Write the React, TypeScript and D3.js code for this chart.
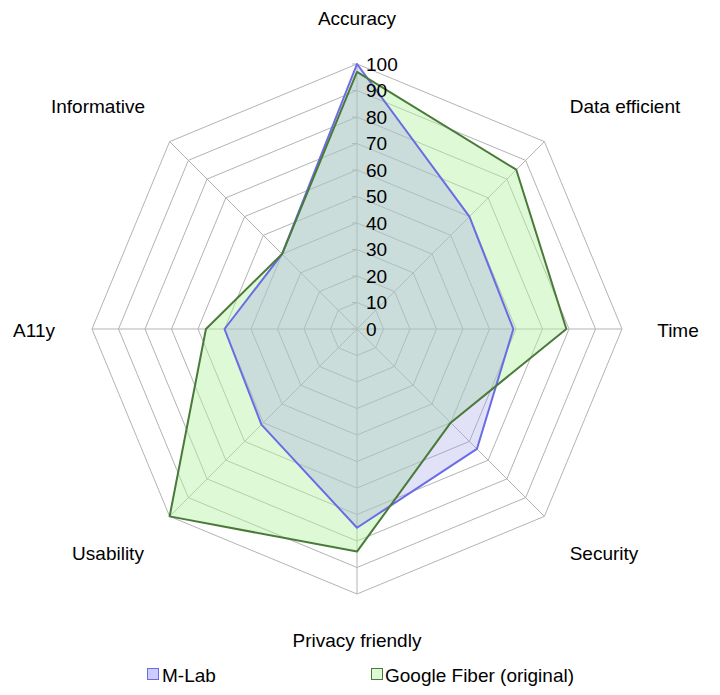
import React from "react";
import * as d3 from "d3";

const axes = ["Accuracy", "Data efficient", "Time", "Security", "Privacy friendly", "Usability", "A11y", "Informative"];
const mlab = [100, 60, 59, 64, 75, 51, 50, 40];
const google = [97, 85, 79, 50, 84, 100, 57, 40];
const ticks = [0, 10, 20, 30, 40, 50, 60, 70, 80, 90, 100];
const seriesNames = ["M-Lab", "Google Fiber (original)"];

export default function App() {
  const W = 720, H = 695;
  const cx = 357, cy = 329, R = 265;
  const r = d3.scaleLinear().domain([0, 100]).range([0, R]);
  const n = axes.length;
  const ang = (i: number) => (i * 2 * Math.PI) / n;
  const pt = (i: number, v: number): [number, number] => [cx + r(v) * Math.sin(ang(i)), cy - r(v) * Math.cos(ang(i))];
  const line = d3.line<[number, number]>().curve(d3.curveLinearClosed);
  const poly = (vals: number[]) => line(vals.map((v, i) => pt(i, v))) as string;
  const labelPos = [
    [357, 18],
    [625, 106],
    [678, 330],
    [604, 553],
    [357, 640],
    [108, 553],
    [34, 330],
    [98, 106],
  ];
  const font = "'Liberation Sans', Arial, sans-serif";
  return (
    <svg width={W} height={H} style={{ position: "absolute", left: 0, top: 0, background: "#fff" }} fontFamily={font}>
      <g stroke="#b3b3b3" strokeWidth={1} fill="none">
        {ticks.slice(1).map((t) => (
          <path key={t} d={line(axes.map((_, i) => pt(i, t))) as string} />
        ))}
        {axes.map((_, i) => {
          const [x, y] = pt(i, 100);
          return <line key={i} x1={cx} y1={cy} x2={x} y2={y} />;
        })}
        {ticks.map((t) => (
          <line key={"t" + t} x1={cx - 5} x2={cx} y1={cy - r(t)} y2={cy - r(t)} />
        ))}
      </g>
      <path d={poly(google)} fill="#b5f2a2" fillOpacity={0.45} stroke="none" />
      <path d={poly(mlab)} fill="#9a9ae8" fillOpacity={0.3} stroke="none" />
      <path d={poly(mlab)} fill="none" stroke="#6b6be6" strokeWidth={2} strokeLinejoin="round" />
      <path d={poly(google)} fill="none" stroke="#4a7a3a" strokeWidth={2} strokeLinejoin="round" />
      {ticks.map((t) => (
        <text key={"l" + t} x={cx + 9} y={cy - r(t)} dy="0.35em" fontSize={19} fill="#000">
          {t}
        </text>
      ))}
      {axes.map((a, i) => (
        <text key={a} x={labelPos[i][0]} y={labelPos[i][1]} dy="0.35em" textAnchor="middle" fontSize={19} fill="#000">
          {a}
        </text>
      ))}
      <rect x={147.5} y={668.5} width={11} height={11} fill="#ccccff" stroke="#6b6be6" strokeWidth={1} />
      <text x={162} y={675} dy="0.35em" fontSize={19}>{seriesNames[0]}</text>
      <rect x={371.5} y={668.5} width={11} height={11} fill="#ddfad4" stroke="#4a7a3a" strokeWidth={1} />
      <text x={385} y={675} dy="0.35em" fontSize={19}>{seriesNames[1]}</text>
    </svg>
  );
}
